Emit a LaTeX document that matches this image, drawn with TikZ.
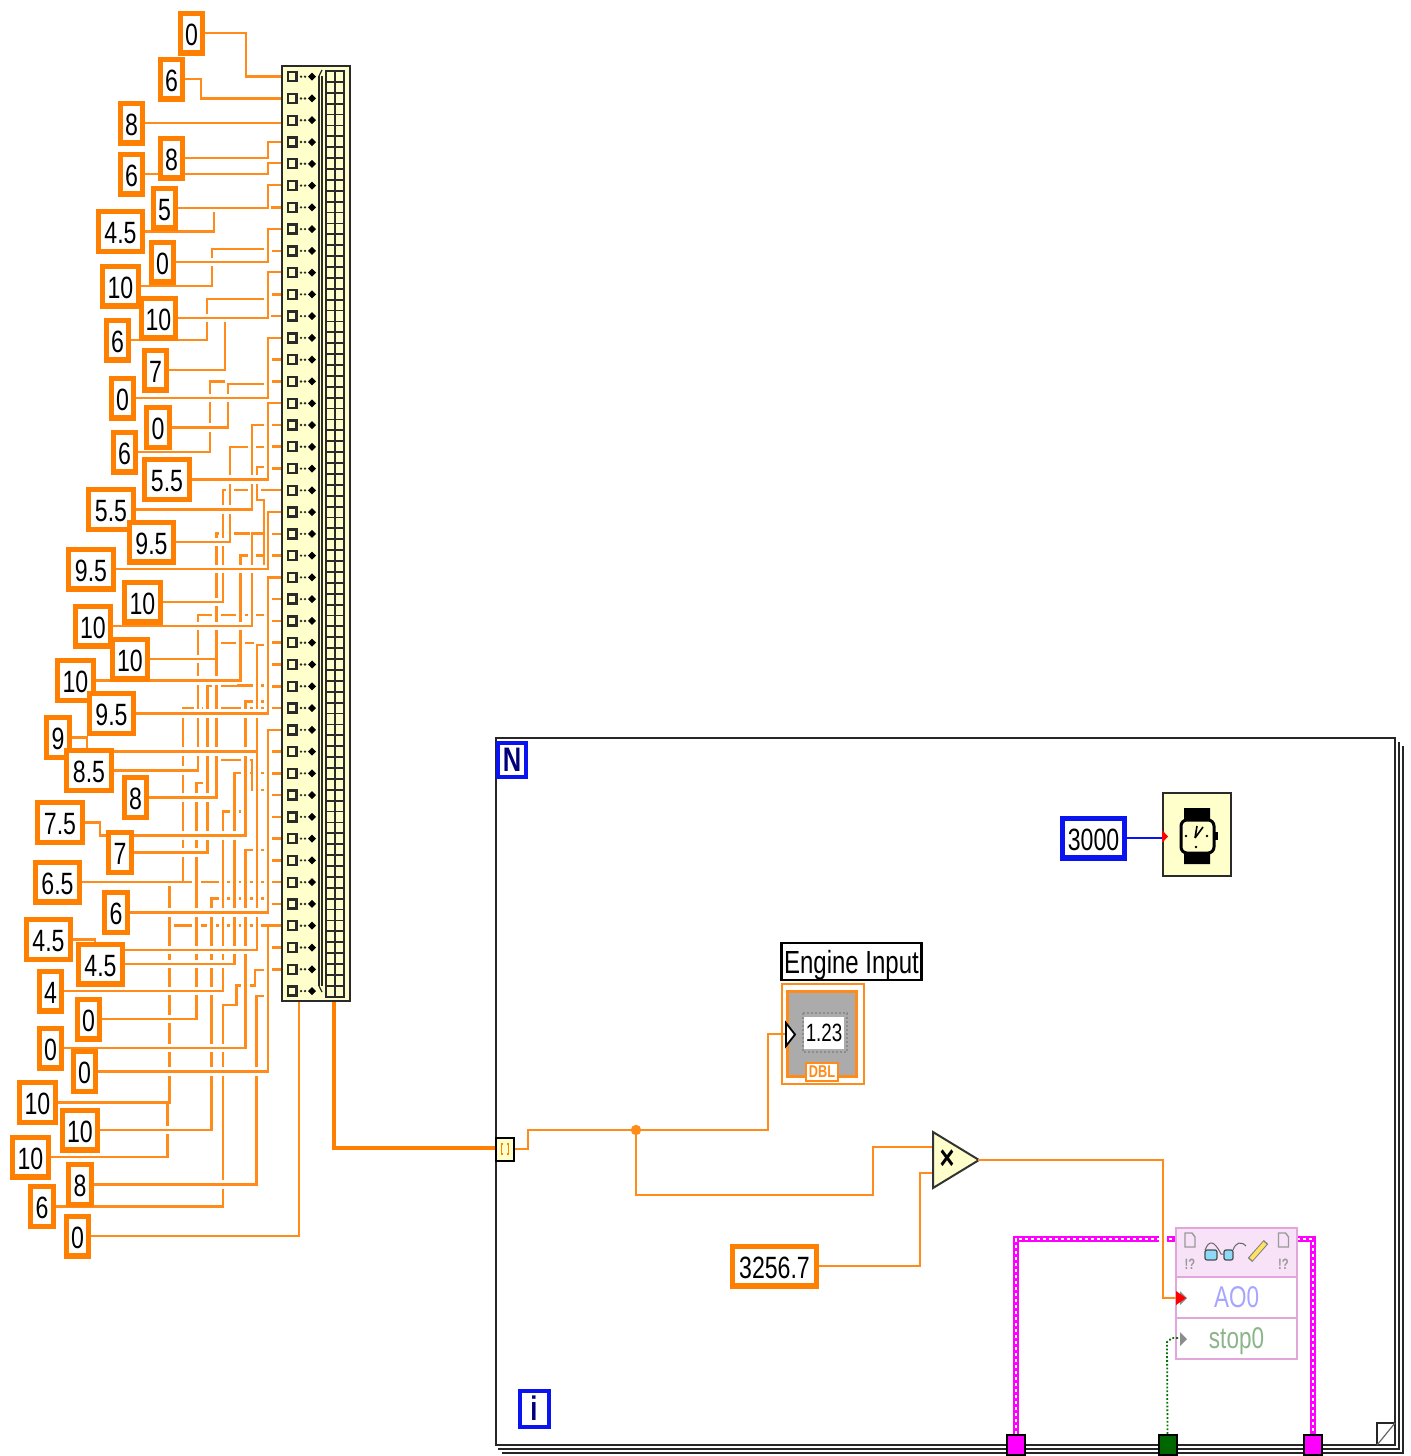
\documentclass[tikz,border=0pt]{standalone}
\usepackage{fontspec}
\setmainfont{Liberation Sans}[FakeStretch=0.75]
\usetikzlibrary{backgrounds,calc}

\definecolor{wireor}{HTML}{FF8C1A}
\definecolor{constor}{HTML}{FF8000}
\definecolor{nodeyel}{HTML}{FFFFCC}
\definecolor{nodeline}{HTML}{2A2A2A}
\definecolor{ioblue}{HTML}{0A14F0}
\definecolor{taskpink}{HTML}{FF00FF}
\definecolor{propline}{HTML}{E2A6DC}
\definecolor{prophead}{HTML}{F8E2F8}

\tikzset{
  wire/.style={draw=wireor, line width=1.3pt, line cap=rect, line join=miter},
  wirecut/.style={wire, preaction={draw=white, line width=4.4pt, line cap=butt, shorten >=3.5*0.5pt, shorten <=3.5*0.5pt}},
  constbox/.style={draw=constor, line width=2.6pt, fill=white, inner sep=0pt, minimum height=19.9pt, minimum width=#1*0.5pt-2.6pt, text height=12pt, text depth=0pt, font=\fontsize{15.4}{18}\selectfont},
  constblue/.style={constbox=#1, draw=ioblue},
  iotext/.style={draw=ioblue, line width=2pt, fill=white, inner sep=0pt, font=\fontsize{17}{20}\bfseries\selectfont, text=black!20!blue!60!black},
  loopline/.style={draw=black!85, line width=1pt},
  taskwire/.style={draw=taskpink, line width=3pt, line join=miter, postaction={draw=white, line width=1pt, dash pattern=on 1.6pt off 1.4pt}},
  termbox/.style={draw=black, line width=1pt, inner sep=0pt, minimum width=9pt, minimum height=10pt},
  proptext/.style={font=\fontsize{15}{18}\selectfont, inner sep=0pt, text depth=0pt}
}

% constant number / value / centre x / centre y / width
\newcommand{\constlist}{0/0/191.5/33/27, 1/6/171.5/79/27, 2/8/131.5/123/27, 3/8/171.5/158/27, 4/6/131.5/174/27,
  5/5/164.5/208/27, 6/4.5/120.5/231.5/49, 7/0/162.5/262/27, 8/10/120.5/286/41, 9/10/158.5/318/39,
  10/6/117.5/340/27, 11/7/155.5/370/27, 12/0/122.5/398/27, 13/0/158/427.5/28, 14/6/124.5/452/27,
  15/5.5/167/479.5/50, 16/5.5/111/509.5/50, 17/9.5/151.5/542/49, 18/9.5/91/569/50, 19/10/142.5/602/41,
  20/10/93/626/40, 21/10/130/659/40, 22/10/75.5/680.5/41, 23/9.5/111.5/713.5/49, 24/9/58/737.5/28,
  25/8.5/89/770.5/50, 26/8/135.5/797.5/27, 27/7.5/60/822.5/50, 28/7/120/852.5/28, 29/6.5/57.5/882/49,
  30/6/116/912.5/28, 31/4.5/48.5/939.5/49, 32/4.5/100.5/964/49, 33/4/50.5/991/27, 34/0/88.5/1019/27,
  35/0/50.5/1048/27, 36/0/84.5/1071.5/27, 37/10/37.5/1102.5/41, 38/10/80/1130/40, 39/10/30.5/1157/41,
  40/8/80/1184.5/28, 41/6/42/1206.5/28, 42/0/77.5/1236/27}

% constant number / x of the riser / y where it turns / x where the run ends
\newcommand{\wirelist}{0/246/76.7/281, 1/201/98.3/281, 2/281/123/281, 3/268/142/281, 4/268/163/281,
  5/268/185/281, 6/214/207/264, 7/268/229/281, 8/212/249/264, 9/268/272/281, 10/207/299/264,
  11/225/319/264, 12/268/338/281, 13/228/384/264, 14/210/381.5/224, 15/268/403/281, 16/252/425/264,
  17/230/447/264, 18/268/512/281, 19/223/490/281, 20/252/533.5/264, 21/216.7/643/253, 22/240.7/555.7/264,
  23/268/577.5/281, 25/198/615/264, 26/216.7/533.5/249, 28/207.7/685.7/264, 29/183/708/281,
  30/268/729.8/281, 32/234.3/773/264, 33/223/811.7/243, 34/196.7/783/213, 35/245.7/850/264,
  36/268/925.7/281, 37/169.6/884/169.6, 38/211.7/898.3/264, 39/167.7/1104/167.7, 40/256.7/996/264,
  41/223/1005/236.7, 42/299/1002/299}

\begin{document}
\begin{tikzpicture}[x=0.5pt, y=-0.5pt, line cap=butt, line join=miter]
  \useasboundingbox (0,0) rectangle (1410,1456);

  % Constants on the left
  \foreach \n/\val/\xc/\yc/\w in \constlist {
    \node[constbox=\w] (c\n) at (\xc,\yc) {\val};
  }

  % Build array block
  \node[draw=nodeline, fill=nodeyel, line width=1.1pt, minimum width=34pt, minimum height=467.5pt, inner sep=0pt] (buildarr) at (316,533.5) {};
  \foreach \i in {0,...,42} {
    \coordinate (r\i) at (281,{76.7+21.77*\i});
    \draw[nodeline, line width=1.2pt] ($(r\i)+(7,-4.5)$) rectangle ($(r\i)+(15.5,4.5)$);
    \fill[nodeline] ($(r\i)+(20,0)$) circle (0.65pt) ($(r\i)+(24,0)$) circle (0.65pt);
    \fill[black] ($(r\i)+(27,0)$) -- ($(r\i)+(31,-4)$) -- ($(r\i)+(35,0)$) -- ($(r\i)+(31,4)$) -- cycle;
  }
  \draw[nodeline, line width=1pt] (319,76) -- (319,986) (322,76) -- (322,986);
  \draw[nodeline, line width=0.6pt] (319,76) -- (322,70) (319,986) -- (322,992);
  \draw[nodeline, line width=1pt] (326,71) rectangle (344,997) (335,71) -- (335,997);
  \foreach \k in {1,...,85} {
    \draw[nodeline, line width=0.9pt] (326,{71+10.89*\k}) -- (344,{71+10.89*\k});
  }

  % Wires behind the constants
  \begin{scope}[on background layer]
    % row stubs and upper runs first
    \foreach \i in {6,8,10,11,13,14,16,17,18,21,22,24,25,26,27,28,31,32,33,34,35,36,38,40,41} {
      \draw[wire] ($(r\i)+(-8.5,0)$) -- (r\i);
    }
    \foreach \n/\xv/\yt/\xe in \wirelist {
      \draw[wire] (\xv,\yt) -- (\xe,\yt);
    }
    \draw[wire] (257,645) -- (264,645);
    \draw[wire] (245.7,701.7) -- (264,701.7);
    \draw[wire] (183,882) -- (281,882);
    \draw[wire] (169.6,925.7) -- (268,925.7);
    \draw[wire] (216.7,760) -- (252.3,760) -- (252.3,790) -- (264,790);
    \draw[wire] (236.7,1005) -- (236.7,985.7) -- (255,985.7) -- (255,970) -- (264,970);
    % then the risers, which break what they cross
    \draw[wirecut] (257,500) -- (257,467) -- (264,467);
    \draw[wirecut] (169.6,925) -- (169.6,884);
    \foreach \n/\xv/\yt/\xe in \wirelist {
      \coordinate (k\n) at (\xv,0 |- c\n.center);
      \draw[wirecut] (k\n) -- (\xv,\yt);
    }
    \draw[wirecut] (257,751.7) -- (257,645);
    \draw[wirecut] (257,950) -- (257,751.7);
    \draw[wirecut] (245.7,835.7) -- (245.7,701.7);
    \draw[wirecut] (183,882) -- (183,708);
    \draw[wire] (264,569) -- (264,500) -- (257,500);
    % last the runs leaving the constants
    \foreach \n/\xv/\yt/\xe in \wirelist {
      \draw[wirecut] (c\n.center) -- (k\n);
    }
    \draw[wirecut] (c24.center) -| (87,751.7) -- (257,751.7);
    \draw[wirecut] (c27.center) -| (100,835.7) -- (245.7,835.7);
    \draw[wirecut] (c31.center) -| (95,950) -- (257,950);
    \draw[wire, line width=2.3pt, draw=constor] (334,0 |- buildarr.south) |- (496,1148);
  \end{scope}

  % Timed loop frame, sheets behind first
  \draw[loopline] (1403,746) -- (1403,1453) -- (502,1453);
  \draw[loopline] (1399,742) -- (1399,1449) -- (498,1449);
  \draw[loopline] (496,738) rectangle (1395,1445);
  \draw[loopline, line width=1pt] (1377,1445) -- (1377,1423) -- (1395,1423);
  \draw[black!60, line width=0.6pt] (1377,1445) -- (1395,1423);
  \node[iotext, minimum width=14pt, minimum height=17pt] (nterm) at (512,759.5) {N};
  \node[iotext, minimum width=14.5pt, minimum height=18pt] (iterm) at (534,1408.5) {i};

  % Wait block and its constant
  \node[draw=nodeline, fill=nodeyel, line width=1pt, minimum width=34pt, minimum height=41.5pt, inner sep=0pt] (waitblk) at (1197,834.5) {};
  \node[constblue=67] (waitms) at (1093.5,838) {3000};
  \draw[ioblue, line width=1.2pt] (waitms.east) -- (waitms.east -| waitblk.west);
  \fill[red] (1162,830) -- (1168,836.5) -- (1162,843) -- cycle;
  \fill[black] (1184,808) rectangle (1210,823) (1184,850) rectangle (1210,864);
  \draw[black, fill=nodeyel, line width=1.5pt, rounded corners=3pt] (1181,820) rectangle (1214,853);
  \fill[black] (1214,832) rectangle (1218,840);
  \draw[black, line width=0.8pt] (1195,838) -- (1197,826) (1195,838) -- (1203,827);
  \foreach \a/\b in {1186/836,1207/836,1196/847} { \fill[black] (\a,\b) circle (0.7pt); }

  % Indicator with its label
  \node[draw=wireor, line width=1pt, minimum width=41pt, minimum height=50pt, inner sep=0pt] (engframe) at (822.5,1033.5) {};
  \node[draw=wireor, fill=black!33, line width=1.1pt, minimum width=34.5pt, minimum height=42.5pt, inner sep=0pt] (enginner) at (822,1034) {};
  \draw[black!45, densely dotted, line width=1pt] (803,1013) rectangle (847,1052);
  \node[fill=white, inner sep=0pt, minimum width=20pt, minimum height=16pt, font=\fontsize{12.5}{14}\selectfont] (engval) at (824,1033) {1.23};
  \node[draw=wireor, fill=white, line width=1pt, inner sep=0pt, minimum width=16pt, minimum height=9pt, font=\fontsize{8.5}{9}\bfseries\selectfont, text=wireor] (engdbl) at (822,1071.5) {DBL};
  \node[draw=black, fill=white, line width=1.1pt, inner sep=0pt, minimum width=70pt, minimum height=18.5pt, text height=12pt, text depth=0pt, font=\fontsize{16}{18}\selectfont] (englabel) at (851.5,961.5) {Engine Input};
  \draw[black, fill=white, line width=0.9pt] (786,1023) -- (795,1034.5) -- (786,1046) -- cycle;

  % Multiply and its constant
  \coordinate (mulin) at (933,1147);
  \coordinate (mulin2) at (933,1173);
  \coordinate (mulout) at (979,1160);
  \draw[black!80, fill=nodeyel, line width=1pt] (933,1132) -- (mulout) -- (933,1188) -- cycle;
  \node[inner sep=0pt, font=\fontsize{17}{20}\bfseries\selectfont] (mulsign) at (947,1160) {×};
  \node[constbox=89] (gainval) at (774.5,1266) {3256.7};

  % For loop tunnel and the wires from it
  \node[draw=black, fill=nodeyel, line width=1pt, minimum width=9pt, minimum height=11.5pt, inner sep=0pt] (tunnel) at (505,1149) {};
  \draw[constor, line width=0.7pt] (503,1144) -- (501.5,1144) -- (501.5,1154) -- (503,1154) (507,1144) -- (508.5,1144) -- (508.5,1154) -- (507,1154);
  \coordinate (junct) at (636,1130);
  \begin{scope}[on background layer]
    \draw[wire] (tunnel.east) -- (528,1149) -- (528,1130) -- (junct) -- (768,1130) -- (768,1034) -- (enginner.west);
    \draw[wire] (junct) -- (636,1195) -- (873,1195) -- (873,1147) -- (mulin);
    \draw[wire] (gainval.east) -- (920,1266) -- (920,1173) -- (mulin2);
  \end{scope}
  \fill[wireor] (junct) circle (2.6pt);

  % Task wire around the property node
  \node[termbox, fill=taskpink] (taskin) at (1015.5,1445) {};
  \node[termbox, fill=green!40!black] (stopin) at (1167.5,1445) {};
  \node[termbox, fill=taskpink] (taskout) at (1312.5,1445) {};
  \begin{scope}[on background layer]
    \draw[taskwire] (taskin.north) -- (1015.5,1239) -- (1176,1239);
    \draw[taskwire] (1297,1239) -- (1312.5,1239) -- (taskout.north);
  \end{scope}
  \draw[draw=propline, fill=prophead, line width=1pt] (1176,1228) rectangle (1297,1277);
  \node[draw=propline, fill=white, line width=1pt, minimum width=60.5pt, minimum height=20.5pt, proptext, text=blue!35!white] (propao) at (1236.5,1297.5) {AO0};
  \node[draw=propline, fill=white, line width=1pt, minimum width=60.5pt, minimum height=20.5pt, proptext, text=green!35!black!45] (propstop) at (1236.5,1338.5) {stop0};
  \foreach \dx in {0,93.5} {
    \draw[black!40, fill=prophead, line width=0.7pt] ({1185+\dx},1233) -- ({1192+\dx},1233) -- ({1195+\dx},1237) -- ({1195+\dx},1247) -- ({1185+\dx},1247) -- cycle;
    \node[inner sep=0pt, text=black!40, font=\fontsize{7.5}{9}\bfseries\selectfont] at ({1190+\dx},1264) {!?};
  }
  \draw[black!70, fill=cyan!45, line width=0.6pt, rounded corners=1pt] (1205,1250) rectangle (1217,1260) (1224,1250) rectangle (1233,1260);
  \draw[black!60, line width=0.5pt] (1205,1250) .. controls (1209,1240) and (1214,1240) .. (1221,1254) -- (1224,1254) (1233,1250) .. controls (1236,1242) and (1241,1241) .. (1246,1246);
  \draw[black!50, line width=3pt] (1250,1260) -- (1266,1242);
  \draw[yellow!70!orange!60, line width=2pt] (1251,1259) -- (1265,1243);
  \fill[black!45] (1180,1291) -- (1187,1298) -- (1180,1305) -- cycle;
  \fill[black!45] (1180,1332) -- (1187,1339) -- (1180,1346) -- cycle;

  % Wires into the property node, over the task wire
  \draw[wirecut] (mulout) -- (1163,1160) -- (1163,1298) -- (1178,1298);
  \fill[red] (1176,1291) -- (1186,1298) -- (1176,1305) -- cycle;
  \draw[green!45!black, line width=0.9pt, densely dotted] (stopin.north) -- (1167,1342) -- (1172,1338) -- (1178,1338);
\end{tikzpicture}
\end{document}
